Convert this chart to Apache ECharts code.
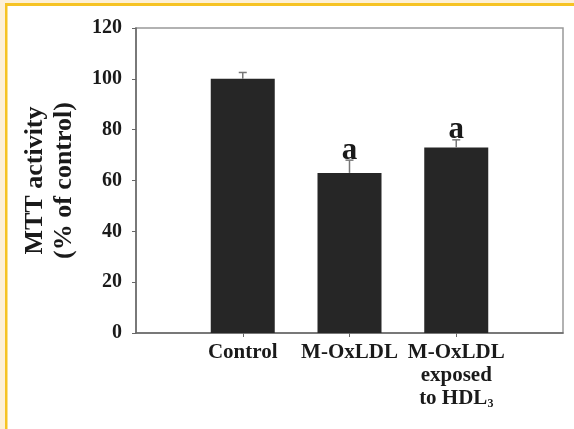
<!DOCTYPE html>
<html>
<head>
<meta charset="utf-8">
<script src="https://cdn.jsdelivr.net/npm/echarts@6/dist/echarts.min.js"></script>
<style>
  html, body { margin: 0; padding: 0; background: #fff; }
  #chart { width: 574px; height: 429px; }
</style>
</head>
<body>
<div id="chart"></div>
<script>
// data
var categories = ['Control', 'M-OxLDL', 'M-OxLDL\nexposed\nto HDL₃'];
var mttValues = [100, 63, 73];
var mttErrors = [2.5, 5, 3];
var sigLabels = ['', 'a', 'a'];
var yTicks = { min: 0, max: 120, step: 20 };

var serif = '"Liberation Serif", "DejaVu Serif", serif';

// pad the axis with an empty slot at each end, like the original layout
var axisData = [''].concat(categories).concat(['']);
var barData = [null].concat(mttValues).concat([null]);
var errData = mttValues.map(function (v, i) {
  return [i + 1, v, mttErrors[i], sigLabels[i]];
});

var chart = echarts.init(document.getElementById('chart'));

var option = {
  backgroundColor: '#fff',
  animation: false,
  // yellow frame of the original figure
  graphic: [
    { type: 'rect', shape: { x: 0, y: 0, width: 574, height: 3 }, style: { fill: '#fdf0d6' } },
    { type: 'rect', shape: { x: 0, y: 0, width: 5, height: 429 }, style: { fill: '#fdf0d6' } },
    { type: 'rect', shape: { x: 5, y: 3, width: 569, height: 3 }, style: { fill: '#f6c324' } },
    { type: 'rect', shape: { x: 5, y: 3, width: 2.5, height: 426 }, style: { fill: '#f6c324' } }
  ],
  grid: {
    left: 136,
    right: 11,
    top: 28,
    bottom: 96,
    show: true,
    borderColor: '#999',
    borderWidth: 1.5
  },
  xAxis: {
    type: 'category',
    boundaryGap: false,
    data: axisData,
    axisLine: { lineStyle: { color: '#666', width: 1.5 } },
    axisTick: {
      length: 4,
      interval: function (index, value) { return value !== ''; },
      lineStyle: { color: '#666' }
    },
    axisLabel: {
      interval: 0,
      margin: 8,
      color: '#1a1a1a',
      fontFamily: serif,
      fontWeight: 'bold',
      fontSize: 21,
      lineHeight: 23,
      formatter: function (v) {
        return v.replace('₃', '{sub|3}');
      },
      rich: {
        sub: {
          fontFamily: serif,
          fontWeight: 'bold',
          fontSize: 12,
          color: '#1a1a1a',
          padding: [10, 0, 0, 0]
        }
      }
    },
    splitLine: { show: false }
  },
  yAxis: {
    type: 'value',
    min: yTicks.min,
    max: yTicks.max,
    interval: yTicks.step,
    name: 'MTT activity\n(% of control)',
    nameLocation: 'middle',
    nameGap: 57,
    nameTextStyle: {
      color: '#1a1a1a',
      fontFamily: serif,
      fontWeight: 'bold',
      fontSize: 26,
      lineHeight: 29
    },
    axisLine: { show: true, lineStyle: { color: '#666', width: 1.5 } },
    axisTick: { show: true, length: 4, lineStyle: { color: '#666' } },
    axisLabel: {
      margin: 14,
      color: '#1a1a1a',
      fontFamily: serif,
      fontWeight: 'bold',
      fontSize: 20
    },
    splitLine: { show: false }
  },
  series: [
    {
      type: 'bar',
      data: barData,
      barWidth: 64,
      itemStyle: { color: '#262626' }
    },
    {
      type: 'custom',
      data: errData,
      z: 5,
      renderItem: function (params, api) {
        var x = api.value(0);
        var top = api.coord([x, api.value(1)]);
        var hi = api.coord([x, api.value(1) + api.value(2)]);
        var children = [
          { type: 'line', shape: { x1: top[0], y1: top[1], x2: hi[0], y2: hi[1] },
            style: { stroke: '#777', lineWidth: 1.5 } },
          { type: 'line', shape: { x1: hi[0] - 4, y1: hi[1], x2: hi[0] + 4, y2: hi[1] },
            style: { stroke: '#777', lineWidth: 1.5 } }
        ];
        var lbl = errData[params.dataIndex][3];
        if (lbl) {
          children.push({
            type: 'text',
            style: {
              x: hi[0],
              y: hi[1] + 6,
              text: lbl,
              fill: '#1a1a1a',
              font: 'bold 31px ' + serif,
              align: 'center',
              verticalAlign: 'bottom'
            }
          });
        }
        return { type: 'group', children: children };
      }
    }
  ]
};

chart.setOption(option);
</script>
</body>
</html>
